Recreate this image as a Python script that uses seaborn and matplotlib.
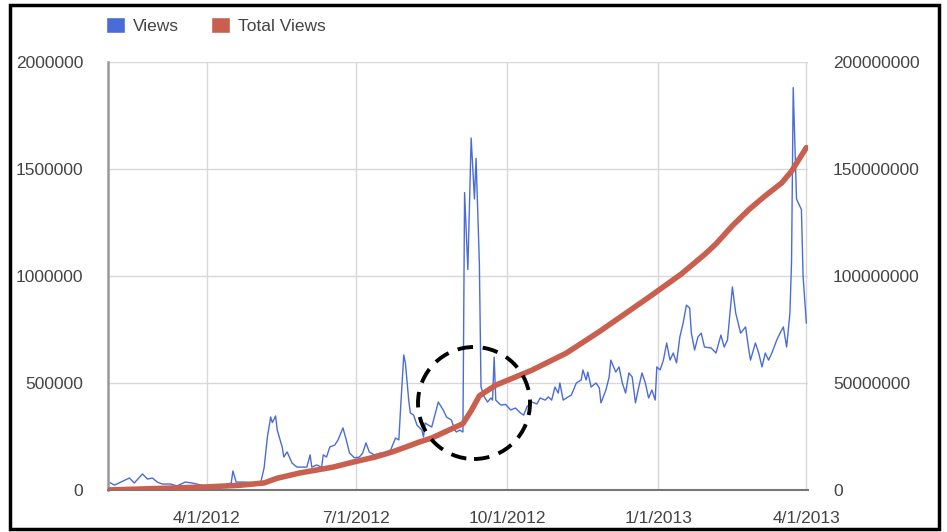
import pandas
import numpy
import seaborn as sns
import matplotlib.pyplot as plt
import matplotlib.ticker as mticker
from matplotlib.patches import Patch, Ellipse, Rectangle
#------------------------------

#data (days counted from 2/1/2012)
start_date = pandas.Timestamp("2012-02-01")

view_days = [0, 4, 13, 16, 21, 24, 27, 30, 33, 38, 42, 47, 51, 59, 67, 75, 76, 78, 83, 89,
             93, 95, 97, 99, 100, 102, 103, 106, 107, 109, 112, 115, 118, 121, 123, 124, 127, 130, 131, 133,
             135, 138, 140, 143, 145, 147, 150, 153, 155, 157, 159, 162, 166, 169, 172, 175, 177, 178, 180, 181,
             183, 184, 186, 188, 191, 192, 193, 197, 201, 204, 206, 209, 211, 212, 214, 216, 217, 219, 221, 223,
             224, 226, 227, 229, 231, 233, 234, 235, 236, 239, 242, 245, 248, 251, 253, 255, 258, 261, 263, 266,
             268, 270, 272, 274, 275, 277, 280, 282, 285, 288, 289, 291, 292, 294, 297, 299, 300, 303, 305, 306,
             309, 311, 313, 315, 317, 319, 321, 323, 325, 327, 329, 331, 333, 334, 336, 338, 340, 342, 344, 346,
             348, 350, 352, 354, 355, 357, 359, 361, 363, 367, 370, 371, 373, 375, 377, 380, 382, 385, 388, 390,
             391, 394, 396, 398, 400, 402, 404, 407, 409, 411, 413, 415, 416, 417, 419, 422, 423, 425]
view_values = [39000, 23000, 56000, 33000, 75000, 51000, 56000, 37000, 28000, 28000, 19000, 37000, 33000, 19000, 14000, 33000, 89000, 37000, 37000, 33000,
               37000, 103000, 248000, 341000, 315000, 346000, 280000, 201000, 154000, 178000, 126000, 107000, 107000, 107000, 164000, 107000, 117000, 107000, 164000, 154000,
               201000, 210000, 234000, 290000, 234000, 173000, 150000, 154000, 173000, 220000, 178000, 164000, 173000, 173000, 187000, 243000, 234000, 374000, 631000, 593000,
               420000, 360000, 350000, 304000, 280000, 248000, 313000, 294000, 411000, 374000, 341000, 327000, 280000, 271000, 280000, 271000, 1390000, 1030000, 1645000, 1360000,
               1550000, 1060000, 481000, 435000, 411000, 430000, 420000, 621000, 420000, 397000, 400000, 374000, 383000, 360000, 350000, 390000, 411000, 402000, 430000, 420000,
               435000, 420000, 481000, 453000, 500000, 420000, 435000, 444000, 500000, 514000, 561000, 514000, 551000, 481000, 500000, 477000, 407000, 467000, 528000, 607000,
               551000, 575000, 500000, 453000, 547000, 528000, 407000, 481000, 547000, 500000, 430000, 467000, 420000, 575000, 561000, 607000, 687000, 607000, 640000, 594000,
               715000, 780000, 864000, 850000, 734000, 654000, 715000, 733000, 668000, 664000, 640000, 668000, 724000, 668000, 701000, 949000, 827000, 733000, 762000, 654000,
               607000, 687000, 640000, 575000, 640000, 607000, 640000, 701000, 733000, 762000, 668000, 827000, 1070000, 1880000, 1360000, 1310000, 1000000, 780000]

total_days = [0, 30, 59, 80, 95, 103, 117, 137, 149, 163, 173, 181, 189, 197, 216, 221, 226, 236, 248, 258,
              279, 299, 329, 349, 363, 370, 380, 390, 400, 410, 416, 425]
total_values = [0, 700000, 1400000, 2200000, 3300000, 5500000, 8000000, 10700000, 13000000, 15500000,
                17800000, 20000000, 22300000, 24300000, 31000000, 37000000, 44000000, 49000000, 52800000, 56000000,
                64000000, 74000000, 90000000, 101000000, 110000000, 115000000, 123500000, 131000000, 137500000, 143500000, 149000000, 160000000]

tick_dates = ["2012-04-01", "2012-07-01", "2012-10-01", "2013-01-01", "2013-04-01"]

data_views = pandas.DataFrame({"Date": start_date + pandas.to_timedelta(view_days, unit="D"), "Views": view_values})
data_total = pandas.DataFrame({"Date": start_date + pandas.to_timedelta(total_days, unit="D"), "Total Views": total_values})

blue = "#4a6cd8"
red = "#c9604f"
text_grey = "#444444"

#plot
sns.set_style("white")
plt.rcParams["font.family"] = ["Liberation Sans", "DejaVu Sans"]

fig = plt.figure(figsize=(9.47, 5.32), dpi=100)
ax = fig.add_axes([108 / 947, 1 - 490 / 532, 700 / 947, 428 / 532])
ax2 = ax.twinx()

sns.lineplot(x="Date", y="Views", data=data_views, ax=ax, color=blue, linewidth=1.0)
sns.lineplot(x="Date", y="Total Views", data=data_total, ax=ax2, color=red, linewidth=4.0)

ax.set_xlim(start_date, pandas.Timestamp("2013-04-02"))
ax.set_ylim(0, 2000000)
ax2.set_ylim(0, 200000000)
ax.set_yticks([0, 500000, 1000000, 1500000, 2000000])
ax2.set_yticks([0, 50000000, 100000000, 150000000, 200000000])
ax.set_xticks(pandas.to_datetime(tick_dates))
ax.xaxis.set_major_formatter(mticker.FuncFormatter(
    lambda v, p: "{d.month}/{d.day}/{d.year}".format(d=pandas.Timestamp(numpy.datetime64(int(v * 86400), "s")))))
ax.yaxis.set_major_formatter(mticker.FuncFormatter(lambda v, p: str(int(v))))
ax2.yaxis.set_major_formatter(mticker.FuncFormatter(lambda v, p: str(int(v))))

ax.set_xlabel("")
ax.set_ylabel("")
ax2.set_ylabel("")
ax.grid(True, color="#d8d8d8", linewidth=1.0)
ax2.grid(False)
ax.tick_params(axis="y", length=0, pad=18, labelsize=12.5, labelcolor=text_grey)
ax.tick_params(axis="x", length=0, pad=15, labelsize=12.5, labelcolor=text_grey)
ax2.tick_params(axis="y", length=0, pad=18, labelsize=12.5, labelcolor=text_grey)

for a in [ax, ax2]:
    a.spines["top"].set_visible(False)
    a.spines["right"].set_visible(False)
    a.spines["left"].set_visible(False)
    a.spines["bottom"].set_visible(False)
ax.spines["left"].set_visible(True)
ax.spines["left"].set_color("#999999")
ax.spines["left"].set_linewidth(1.8)
ax.spines["bottom"].set_visible(True)
ax.spines["bottom"].set_color("#777777")
ax.spines["bottom"].set_linewidth(1.5)

#legend
handles = [Patch(facecolor=blue, label="Views"), Patch(facecolor=red, label="Total Views")]
fig.legend(handles=handles, loc="upper left", bbox_to_anchor=(90 / 947, 1 - 1 / 532), ncol=2, frameon=False,
           fontsize=12.5, handlelength=1.1, handleheight=1.1, handletextpad=0.5, columnspacing=1.8,
           labelcolor=text_grey)

#dashed circle
circle = Ellipse((474 / 947, 1 - 403 / 532), 112 / 947, 112 / 532, transform=fig.transFigure, fill=False,
                 edgecolor="black", linewidth=2.8, linestyle=(0, (4, 2.5)), zorder=10)
fig.patches.append(circle)

#border
border = Rectangle((10 / 947, 3 / 532), 929 / 947, 524 / 532, transform=fig.transFigure, fill=False,
                   edgecolor="black", linewidth=2.5, zorder=10)
fig.patches.append(border)

plt.savefig("out.png", dpi=100)
